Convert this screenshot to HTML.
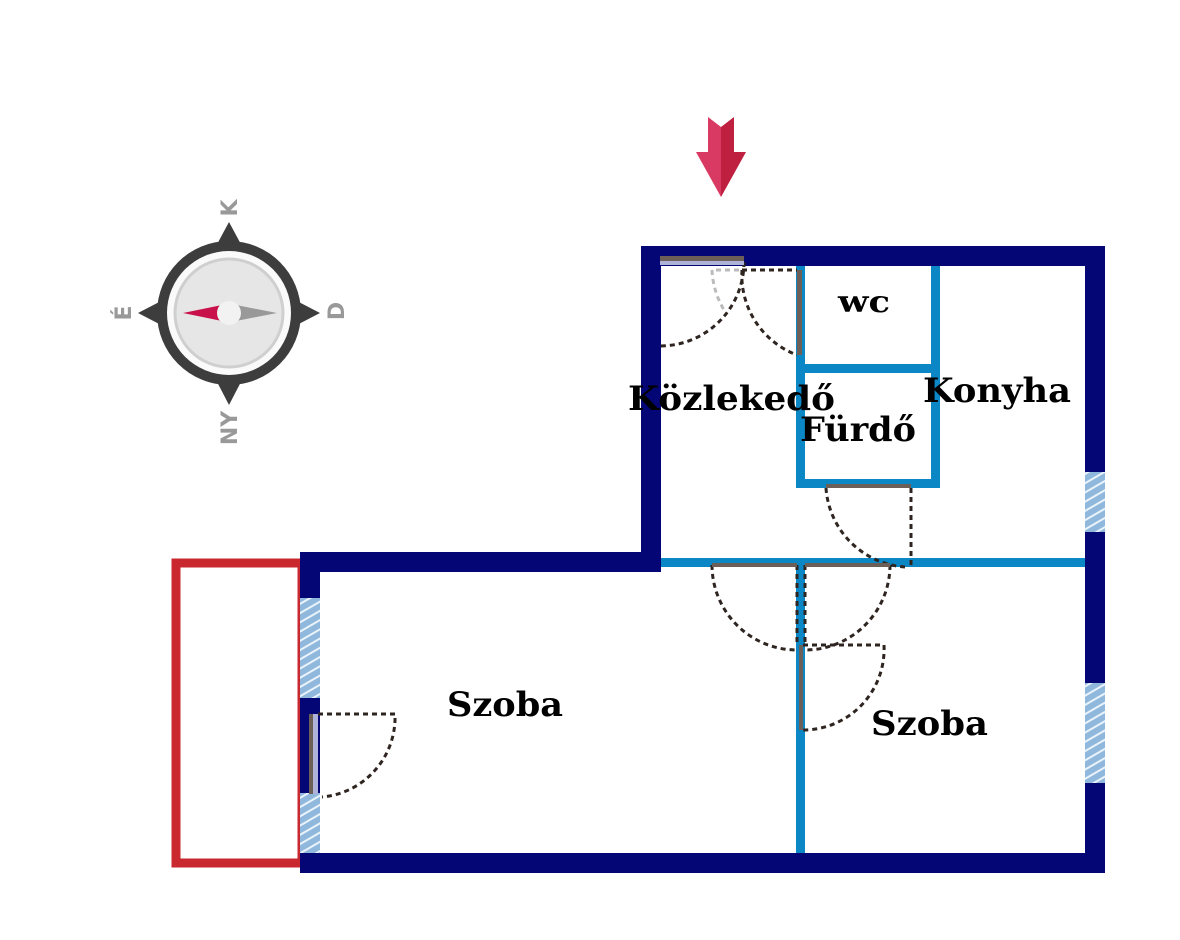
<!DOCTYPE html>
<html><head><meta charset="utf-8"><style>html,body{margin:0;padding:0;background:#fff}svg{display:block}</style></head>
<body>
<svg width="1180" height="940" viewBox="0 0 1180 940" xmlns="http://www.w3.org/2000/svg">
<defs>
<pattern id="hatch" width="8" height="8" patternUnits="userSpaceOnUse" patternTransform="rotate(-30)">
<rect width="8" height="8" fill="#8fb8dc"/><rect width="8" height="2" fill="#eaf3fb"/>
</pattern>
</defs>
<rect x="176" y="563" width="126" height="300" fill="none" stroke="#c8282e" stroke-width="9"/>
<g fill="#050675">
<rect x="641" y="246" width="464" height="20"/>
<rect x="1085" y="246" width="20" height="627"/>
<rect x="300" y="853" width="805" height="20"/>
<rect x="641" y="246" width="20" height="326"/>
<rect x="300" y="552" width="361" height="20"/>
<rect x="300" y="552" width="20" height="321"/>
</g>
<rect x="1085" y="472" width="20" height="60" fill="url(#hatch)"/>
<rect x="1085" y="683" width="20" height="100" fill="url(#hatch)"/>
<rect x="300" y="598" width="20" height="100" fill="url(#hatch)"/>
<rect x="300" y="793" width="20" height="60" fill="url(#hatch)"/>
<g fill="#0b87c6">
<rect x="661" y="558" width="424" height="9"/>
<rect x="796" y="567" width="9" height="286"/>
<rect x="796" y="266" width="9" height="222"/>
<rect x="931" y="266" width="9" height="222"/>
<rect x="796" y="364" width="144" height="9"/>
<rect x="796" y="479" width="144" height="9"/>
</g>
<g fill="none" stroke="#2e2420" stroke-width="3" stroke-dasharray="5,4">
<path d="M744 262 A84 84 0 0 1 660 346"/>
<path d="M742 270 L797 270"/>
<path d="M742 270 A85 85 0 0 0 797 355"/>
<path d="M911 488 L911 567"/>
<path d="M826 488 A85 85 0 0 0 905 567"/>
<path d="M712 565 A85 85 0 0 0 797 650"/>
<path d="M890 565 A85 85 0 0 1 805 650"/>
<path d="M797 565 L797 645 M805 565 L805 645"/>
<path d="M803 645 L884 645 A81 81 0 0 1 803 730"/>
<path d="M318 714 L395 714 A80 80 0 0 1 322 797"/>
</g>
<path d="M716 270 L742 270 M712 270 A85 85 0 0 0 724 310" fill="none" stroke="#bbb" stroke-width="3" stroke-dasharray="5,4"/>
<g fill="#6b5f58">
<rect x="660" y="256" width="84" height="5"/>
<rect x="797" y="270" width="5" height="85"/>
<rect x="826" y="484" width="85" height="4"/>
<rect x="712" y="563" width="85" height="4"/>
<rect x="805" y="563" width="85" height="4"/>
<rect x="799" y="645" width="4" height="85"/>
<rect x="309" y="714" width="4" height="80"/>
</g>
<rect x="660" y="261" width="84" height="4" fill="#b0b3d8"/>
<rect x="313" y="714" width="5" height="80" fill="#b0b3d8"/>
<g font-family="DejaVu Serif, serif" font-weight="bold" fill="#000" lengthAdjust="spacingAndGlyphs">
<text x="628" y="410" font-size="34" textLength="207" lengthAdjust="spacingAndGlyphs">Közlekedő</text>
<text x="800" y="441" font-size="34" textLength="116" lengthAdjust="spacingAndGlyphs">Fürdő</text>
<text x="838" y="312" font-size="30" textLength="52" lengthAdjust="spacingAndGlyphs">wc</text>
<text x="923" y="402" font-size="34" textLength="148" lengthAdjust="spacingAndGlyphs">Konyha</text>
<text x="447" y="716" font-size="34" textLength="116" lengthAdjust="spacingAndGlyphs">Szoba</text>
<text x="871" y="735" font-size="34" textLength="117" lengthAdjust="spacingAndGlyphs">Szoba</text>
</g>
<polygon points="708,117 721,127 721,197 696,152 708,152" fill="#d83a63"/>
<polygon points="734,117 721,127 721,197 746,152 734,152" fill="#c0203f"/>
<g>
<polygon points="229,222 243,248 215,248" fill="#3d3d3d"/>
<polygon points="229,405 243,378 215,378" fill="#3d3d3d"/>
<polygon points="138,313 165,299 165,327" fill="#3d3d3d"/>
<polygon points="320,313 293,299 293,327" fill="#3d3d3d"/>
<circle cx="229" cy="313" r="72" fill="#3d3d3d"/>
<circle cx="229" cy="313" r="62" fill="#fafafa"/>
<circle cx="229" cy="313" r="54" fill="#e6e6e6" stroke="#cfcfcf" stroke-width="3"/>
<polygon points="183,313 222,305 222,321" fill="#c8104b"/>
<polygon points="277,313 236,305 236,321" fill="#999"/>
<circle cx="229" cy="313" r="12" fill="#f2f2f2"/>
<g font-family="DejaVu Sans, sans-serif" font-weight="bold" font-size="22" fill="#999" text-anchor="middle">
<text transform="translate(237,208) rotate(-90)">K</text>
<text transform="translate(131,313) rotate(-90)">É</text>
<text transform="translate(344,311) rotate(-90)">D</text>
<text transform="translate(237,428) rotate(-90)">NY</text>
</g>
</g>
</svg>
</body></html>
